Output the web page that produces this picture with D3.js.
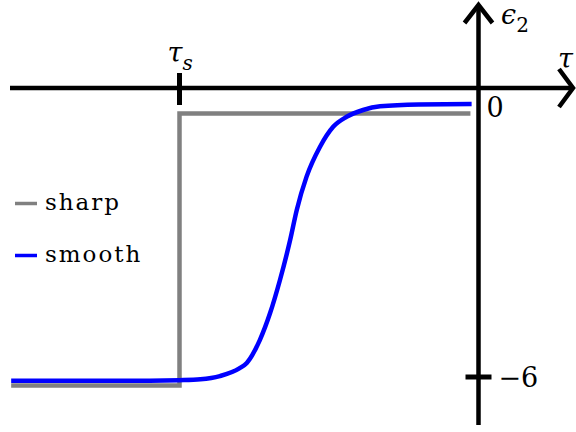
<!DOCTYPE html>
<html>
<head>
<meta charset="utf-8">
<script src="https://cdn.jsdelivr.net/npm/d3@7"></script>
<style>
  body { margin: 0; background: #fff; }
  text { font-family: "DejaVu Serif", serif; fill: #000; }
</style>
</head>
<body>
<svg id="chart" width="576" height="432"></svg>
<script>
// smooth switching curve
var tauSmooth = [-15.63, -11.0, -10.0, -9.3, -8.65, -8.0, -7.75, -7.31, -6.97, -6.64, -6.3, -6.08, -5.75, -5.3, -4.86, -4.41, -3.86, -3.29, -2.0, -0.23];
var epsSmooth = [-6.08, -6.08, -6.07, -6.05, -5.98, -5.81, -5.69, -5.18, -4.59, -3.86, -2.98, -2.32, -1.58, -0.92, -0.48, -0.26, -0.11, -0.03, 0.01, 0.02];

// sharp switch (drawn a little below the smooth one)
var tauSharp = [-15.63, -10, -10, -0.27];
var epsSharp = [-6.19, -6.19, -0.19, -0.19];

var xTicks = [-10];
var yTicks = [-6];
var yTickLabels = ["\u22126"];
var legendNames = ["sharp", "smooth"];
var legendColors = ["#808080", "#0000ff"];

function load() {
  var svg = d3.select("#chart");

  var x = d3.scaleLinear().domain([-10, 0]).range([179.5, 478.5]);
  var y = d3.scaleLinear().domain([-6, 0]).range([377, 105]);

  var axisY = 88;
  var axisX = x(0);

  // curves first, axes on top
  var line = d3.line()
    .x(function(d) { return x(d[0]); })
    .y(function(d) { return y(d[1]); });

  svg.append("path")
    .datum(d3.zip(tauSharp, epsSharp))
    .attr("d", line)
    .style("fill", "none")
    .style("stroke", legendColors[0])
    .style("stroke-width", 4.5);

  svg.append("path")
    .datum(d3.zip(tauSmooth, epsSmooth))
    .attr("d", line.curve(d3.curveMonotoneX))
    .style("fill", "none")
    .style("stroke", legendColors[1])
    .style("stroke-width", 4.5);

  // axes
  svg.append("line")
    .attr("x1", 10).attr("y1", axisY)
    .attr("x2", 573).attr("y2", axisY)
    .style("stroke", "black").style("stroke-width", 4.5);
  svg.append("line")
    .attr("x1", axisX).attr("y1", 425)
    .attr("x2", axisX).attr("y2", 5)
    .style("stroke", "black").style("stroke-width", 4.5);

  // arrow heads
  svg.append("path")
    .attr("d", "M" + 559 + "," + (axisY - 19) + "L" + 573 + "," + axisY + "L" + 559 + "," + (axisY + 19))
    .style("fill", "none").style("stroke", "black").style("stroke-width", 4.5);
  svg.append("path")
    .attr("d", "M" + (axisX - 14) + "," + 23 + "L" + axisX + "," + 5 + "L" + (axisX + 14) + "," + 23)
    .style("fill", "none").style("stroke", "black").style("stroke-width", 4.5);

  // ticks
  svg.selectAll(".xtick").data(xTicks).enter().append("line")
    .attr("x1", function(d) { return x(d); }).attr("x2", function(d) { return x(d); })
    .attr("y1", axisY - 15).attr("y2", axisY + 17)
    .style("stroke", "black").style("stroke-width", 5);
  svg.selectAll(".ytick").data(yTicks).enter().append("line")
    .attr("y1", function(d) { return y(d); }).attr("y2", function(d) { return y(d); })
    .attr("x1", axisX - 13).attr("x2", axisX + 13)
    .style("stroke", "black").style("stroke-width", 5);

  // tick labels
  svg.selectAll(".ylab").data(yTicks).enter().append("text")
    .attr("x", axisX + 20)
    .attr("y", function(d) { return y(d) + 10; })
    .style("font-size", "27px")
    .text(function(d, i) { return yTickLabels[i]; });

  svg.append("text")
    .attr("x", axisX + 8).attr("y", 117)
    .style("font-size", "27px")
    .text("0");

  var ts = svg.append("text")
    .attr("x", x(xTicks[0]) - 12).attr("y", 62)
    .style("font-size", "27px");
  ts.append("tspan").style("font-style", "italic").text("\u03c4");
  ts.append("tspan").attr("dy", 8).style("font-size", "20px").style("font-style", "italic").text("s");

  // axis names
  svg.append("text")
    .attr("x", 558).attr("y", 68)
    .style("font-size", "27px").style("font-style", "italic")
    .text("\u03c4");

  var eps = svg.append("text")
    .attr("x", 501).attr("y", 24)
    .style("font-size", "27px");
  eps.append("tspan").style("font-style", "italic").text("\u03f5");
  eps.append("tspan").attr("dy", 8).style("font-size", "20px").text("2");

  // legend
  var leg = svg.selectAll(".leg").data(legendNames).enter().append("g")
    .attr("transform", function(d, i) { return "translate(0," + (203.5 + i * 52) + ")"; });
  leg.append("line")
    .attr("x1", 15).attr("x2", 37)
    .attr("y1", 0).attr("y2", 0)
    .style("stroke", function(d, i) { return legendColors[i]; })
    .style("stroke-width", 3.5);
  leg.append("text")
    .attr("x", 45).attr("y", 6)
    .style("font-size", "23px")
    .style("letter-spacing", "2px")
    .text(function(d) { return d; });
}

load();
</script>
</body>
</html>
